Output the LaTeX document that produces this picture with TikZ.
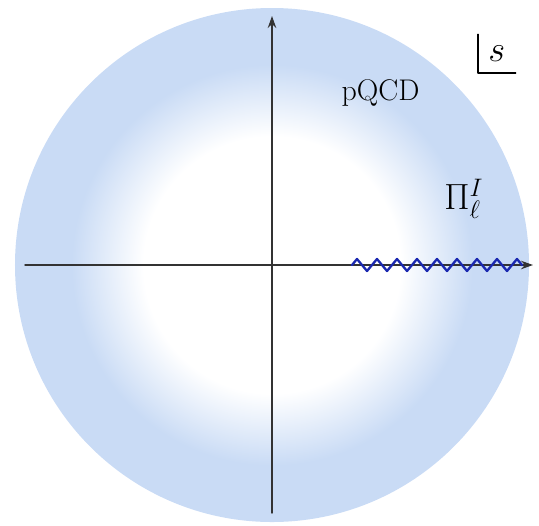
\documentclass[tikz,border=0pt]{standalone}
\usepackage{tikz}
\usetikzlibrary{decorations.pathmorphing,arrows.meta}
\definecolor{DiskBlue}{HTML}{C9DBF5}
\definecolor{CutBlue}{HTML}{1A28B0}
\pgfdeclareradialshading{disk}{\pgfpoint{0cm}{0cm}}{color(0bp)=(white); color(12.5bp)=(white); color(19.5bp)=(DiskBlue); color(50bp)=(DiskBlue)}

\begin{document}
\begin{tikzpicture}[line cap=round,line join=round,>={Stealth[length=2.4mm,width=1.7mm]}]
  \useasboundingbox (-5.44,-5.2) rectangle (5.34,5.3);
  \shade[shading=disk] (0,0) circle (5.14);
  \coordinate (w) at (-4.94,0); \coordinate (e) at (5.22,0);
  \coordinate (sth) at (0,-4.96); \coordinate (nth) at (0,4.98);
  \coordinate (cut) at (1.6,0); \coordinate (cutend) at (5.0,0);
  \draw[->,line width=0.8pt,black!80] (w)--(e);
  \draw[->,line width=0.8pt,black!80] (sth)--(nth);
  \draw[CutBlue,line width=1.3pt,decorate,decoration={zigzag,segment length=0.4cm,amplitude=0.12cm}] (cut)--(cutend);
  \node[font=\fontsize{17}{19}\selectfont] (pqcd) at (2.17,3.44) {pQCD};
  \node[font=\fontsize{20}{22}\selectfont] (pi) at (3.84,1.32) {$\Pi_\ell^I$};
  \node[font=\fontsize{22}{24}\selectfont,inner sep=0pt,minimum width=0.74cm,minimum height=0.76cm,anchor=south west] (s) at (4.12,3.84) {$s$};
  \draw[line width=0.8pt] (s.north west)--(s.south west)--(s.south east);
\end{tikzpicture}
\end{document}
